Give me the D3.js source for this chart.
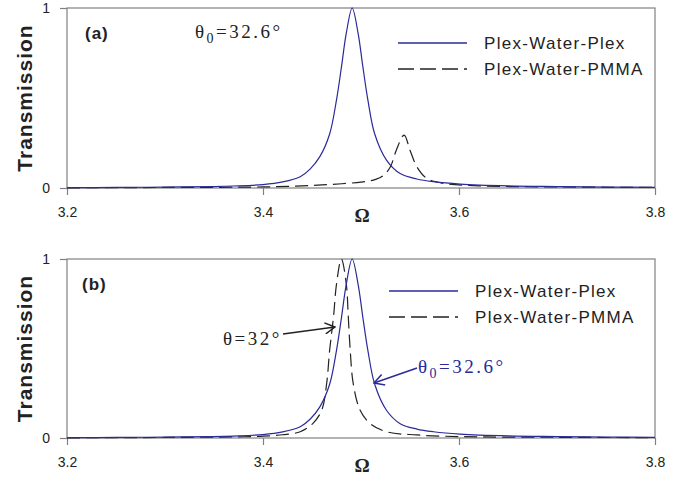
<!DOCTYPE html>
<html>
<head>
<meta charset="utf-8">
<script src="https://cdn.jsdelivr.net/npm/d3@7"></script>
<style>
  body { margin: 0; background: #fff; }
  svg { display: block; }
</style>
</head>
<body>
<div id="chart"></div>
<script>
var w = 685, h = 485;

// x axis ticks
var xTicks = [3.2, 3.4, 3.6, 3.8];
var yTicks = [0, 1];
var seriesNames = ["Plex-Water-Plex", "Plex-Water-PMMA"];

// Plex-Water-Plex (same curve in both panels, theta0 = 32.6)
var omegaPlex = [3.20, 3.25, 3.30, 3.35, 3.37, 3.40, 3.42, 3.438, 3.448, 3.458, 3.468, 3.475, 3.480, 3.485, 3.491,
                 3.497, 3.502, 3.507, 3.514, 3.526, 3.540, 3.557, 3.574, 3.601, 3.65, 3.70, 3.75, 3.80];
var transPlex = [0.002, 0.003, 0.005, 0.008, 0.011, 0.019, 0.034, 0.063, 0.105, 0.174, 0.30, 0.49, 0.67, 0.86, 1.0,
                 0.86, 0.67, 0.49, 0.30, 0.155, 0.08, 0.05, 0.035, 0.022, 0.012, 0.008, 0.005, 0.004];

// Plex-Water-PMMA, panel (a), theta0 = 32.6
var omegaPmmaA = [3.20, 3.30, 3.40, 3.44, 3.47, 3.50, 3.515, 3.523, 3.530, 3.536, 3.544, 3.550, 3.557, 3.567, 3.584, 3.62, 3.70, 3.80];
var transPmmaA = [0.001, 0.003, 0.006, 0.012, 0.02, 0.033, 0.048, 0.07, 0.118, 0.21, 0.294, 0.21, 0.118, 0.054, 0.026, 0.012, 0.006, 0.003];

// Plex-Water-PMMA, panel (b), theta = 32
var omegaPmmaB = [3.20, 3.30, 3.38, 3.40, 3.42, 3.438, 3.451, 3.460, 3.465, 3.468, 3.472, 3.475, 3.480,
                  3.485, 3.487, 3.489, 3.492, 3.499, 3.509, 3.526, 3.557, 3.60, 3.70, 3.80];
var transPmmaB = [0.001, 0.003, 0.007, 0.01, 0.018, 0.035, 0.082, 0.156, 0.306, 0.49, 0.68, 0.86, 1.0,
                  0.86, 0.68, 0.49, 0.306, 0.156, 0.082, 0.035, 0.017, 0.008, 0.004, 0.002];

var blue = "#2a2a9a", dark = "#222", grey = "#808080";

var svg = d3.select("#chart").append("svg")
  .attr("width", w)
  .attr("height", h);

// arrowheads (open V)
var defs = svg.append("defs");
[["arrBlack", dark], ["arrBlue", blue]].forEach(function(a) {
  defs.append("marker")
    .attr("id", a[0])
    .attr("viewBox", "0 0 12 12")
    .attr("refX", 11).attr("refY", 6)
    .attr("markerWidth", 12).attr("markerHeight", 12)
    .attr("markerUnits", "userSpaceOnUse")
    .attr("orient", "auto")
    .append("path")
      .attr("d", "M1,0.5 L11,6 L1,11.5")
      .attr("fill", "none")
      .attr("stroke", a[1])
      .attr("stroke-width", 1.5);
});

function zip(xs, ys) {
  return xs.map(function(x, i) { return { x: x, y: ys[i] }; });
}

function drawPanel(p) {
  var xScale = d3.scaleLinear().domain([3.2, 3.8]).range([67, 655]);
  var yScale = d3.scaleLinear().domain([0, 1]).range([p.y0, p.y1]);
  var g = svg.append("g");

  // frame
  g.append("rect")
    .attr("x", 67).attr("y", p.y1)
    .attr("width", 588).attr("height", p.y0 - p.y1)
    .attr("fill", "none").attr("stroke", grey).attr("stroke-width", 1.2);

  var xAxis = d3.axisBottom(xScale).tickValues(xTicks).tickSize(7).tickPadding(12)
    .tickFormat(d3.format(".1f"));
  var yAxis = d3.axisLeft(yScale).tickValues(yTicks).tickSize(7).tickPadding(10)
    .tickFormat(d3.format("d"));

  var gx = g.append("g").attr("transform", "translate(0," + p.y0 + ")").call(xAxis);
  var gy = g.append("g").attr("transform", "translate(67,0)").call(yAxis);
  [gx, gy].forEach(function(ax) {
    ax.select(".domain").remove();
    ax.selectAll(".tick line").attr("stroke", grey).attr("stroke-width", 1.2);
    ax.selectAll(".tick text")
      .attr("fill", dark)
      .style("font-family", "'Liberation Sans', Arial, sans-serif")
      .style("font-size", "14px");
  });

  // axis titles
  g.append("text")
    .attr("transform", "translate(32," + ((p.y0 + p.y1) / 2) + ") rotate(-90)")
    .attr("text-anchor", "middle")
    .style("font-family", "'Liberation Sans', Arial, sans-serif")
    .style("font-size", "21px").style("font-weight", "bold")
    .style("letter-spacing", "1px")
    .attr("fill", dark)
    .text("Transmission");
  g.append("text")
    .attr("x", 362).attr("y", p.y0 + 34)
    .attr("text-anchor", "middle")
    .style("font-family", "'Liberation Serif', 'Times New Roman', serif")
    .style("font-size", "19px").style("font-weight", "bold")
    .attr("fill", dark)
    .text("Ω");

  // panel letter
  g.append("text")
    .attr("x", p.lx).attr("y", p.y1 + 31)
    .style("font-family", "'Liberation Sans', Arial, sans-serif")
    .style("font-size", "17px").style("font-weight", "bold")
    .style("letter-spacing", "1px")
    .attr("fill", dark)
    .text(p.letter);

  var line = d3.line()
    .x(function(d) { return xScale(d.x); })
    .y(function(d) { return yScale(d.y); })
    .curve(d3.curveCatmullRom.alpha(0.5));

  g.append("path")
    .datum(zip(p.dashX, p.dashY))
    .attr("d", line)
    .attr("fill", "none").attr("stroke", dark).attr("stroke-width", 1.2)
    .attr("stroke-dasharray", "13,6");
  g.append("path")
    .datum(zip(omegaPlex, transPlex))
    .attr("d", line)
    .attr("fill", "none").attr("stroke", blue).attr("stroke-width", 1.2);

  // legend
  var styles = [{ stroke: blue, dash: null }, { stroke: dark, dash: "16,6" }];
  seriesNames.forEach(function(name, i) {
    var ly = p.legY + i * 26;
    g.append("line")
      .attr("x1", p.legX).attr("x2", p.legX + 69)
      .attr("y1", ly).attr("y2", ly)
      .attr("stroke", styles[i].stroke).attr("stroke-width", 1.4)
      .attr("stroke-dasharray", styles[i].dash);
    g.append("text")
      .attr("x", p.legX + 86).attr("y", ly + 6)
      .style("font-family", "'Liberation Sans', Arial, sans-serif")
      .style("font-size", "17px")
      .style("letter-spacing", "1.3px")
      .attr("fill", dark)
      .text(name);
  });
  return g;
}

function angleLabel(g, x, y, sym, sub, rest, color) {
  var t = g.append("text")
    .attr("x", x).attr("y", y)
    .style("font-family", "'Liberation Serif', 'Times New Roman', serif")
    .style("font-size", "19px")
    .style("letter-spacing", "2.5px")
    .attr("fill", color);
  t.append("tspan").text(sym);
  if (sub) {
    t.append("tspan").attr("dy", 5).style("font-size", "14px").text(sub);
    t.append("tspan").attr("dy", -5).text(rest);
  } else {
    t.append("tspan").text(rest);
  }
}

// panel (a)
var ga = drawPanel({ y0: 188, y1: 8, letter: "(a)", lx: 85, dashX: omegaPmmaA, dashY: transPmmaA, legX: 398, legY: 43 });
angleLabel(ga, 195, 38, "θ", "0", "=32.6°", dark);

// panel (b)
var gb = drawPanel({ y0: 438, y1: 259, letter: "(b)", lx: 82, dashX: omegaPmmaB, dashY: transPmmaB, legX: 389, legY: 291 });
angleLabel(gb, 223, 345, "θ", null, "=32°", dark);
angleLabel(gb, 418, 373, "θ", "0", "=32.6°", blue);

gb.append("line")
  .attr("x1", 283).attr("y1", 334).attr("x2", 335).attr("y2", 327)
  .attr("stroke", dark).attr("stroke-width", 1.5)
  .attr("marker-end", "url(#arrBlack)");
gb.append("line")
  .attr("x1", 417).attr("y1", 368).attr("x2", 374).attr("y2", 383)
  .attr("stroke", blue).attr("stroke-width", 1.5)
  .attr("marker-end", "url(#arrBlue)");
</script>
</body>
</html>
